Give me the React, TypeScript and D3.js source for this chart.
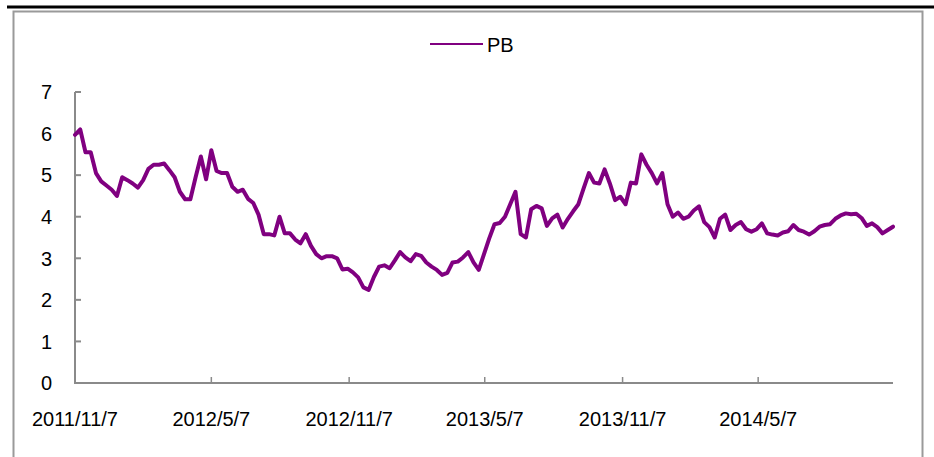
import React from 'react';
import * as d3 from 'd3';

// Weekly PB readings starting 2011/11/7
const START = '2011/11/7';
const pbWeekly: number[] = [
  5.97, 6.1, 5.55, 5.55, 5.05, 4.85, 4.75, 4.65, 4.5, 4.95,
  4.88, 4.8, 4.7, 4.88, 5.15, 5.25, 5.25, 5.28, 5.12, 4.95,
  4.6, 4.42, 4.42, 4.95, 5.45, 4.9, 5.6, 5.1, 5.05, 5.05,
  4.72, 4.6, 4.65, 4.43, 4.33, 4.05, 3.58, 3.58, 3.55, 4.0,
  3.6, 3.6, 3.45, 3.36, 3.58, 3.3, 3.1, 3.0, 3.05, 3.05,
  3.0, 2.73, 2.75, 2.66, 2.54, 2.3, 2.24, 2.55, 2.8, 2.83,
  2.76, 2.95, 3.15, 3.02, 2.93, 3.1, 3.06, 2.9, 2.8, 2.72,
  2.6, 2.65, 2.9, 2.92, 3.02, 3.15, 2.9, 2.72, 3.1,
  3.48, 3.82, 3.85, 4.0, 4.3, 4.6, 3.58, 3.5, 4.18, 4.26,
  4.2, 3.78, 3.96, 4.05, 3.74, 3.95, 4.13, 4.3, 4.68, 5.05,
  4.82, 4.8, 5.14, 4.8, 4.4, 4.48, 4.3, 4.82, 4.8, 5.5,
  5.25, 5.05, 4.8, 5.05, 4.3, 4.0, 4.1, 3.95, 4.0,
  4.15, 4.25, 3.87, 3.75, 3.5, 3.95, 4.05, 3.68, 3.8, 3.87,
  3.7, 3.64, 3.7, 3.84, 3.6, 3.57, 3.55, 3.62, 3.65, 3.8,
  3.68, 3.64, 3.57, 3.65, 3.76, 3.8, 3.82, 3.95, 4.03, 4.08,
  4.06, 4.07, 3.97, 3.78, 3.84, 3.75, 3.6, 3.68, 3.76,
];
const xTickLabels = ['2011/11/7', '2012/5/7', '2012/11/7', '2013/5/7', '2013/11/7', '2014/5/7'];
const yTicks = [0, 1, 2, 3, 4, 5, 6, 7];
const seriesName = 'PB';

const FONT = '"Liberation Sans", Arial, sans-serif';
const LINE_COLOR = '#800080';
const AXIS_COLOR = '#8a8a8a';

export default function App() {
  const W = 934;
  const H = 457;
  const parse = d3.timeParse('%Y/%m/%d');
  const start = parse(START) as Date;
  const dates = pbWeekly.map((_, i) => d3.timeDay.offset(start, 7 * i));
  const x = d3.scaleTime().domain([start, dates[dates.length - 1]]).range([75, 893]);
  const y = d3.scaleLinear().domain([0, 7]).range([383, 92]);
  const line = d3
    .line<number>()
    .x((_, i) => x(dates[i]))
    .y((d) => y(d));

  return (
    <div style={{ position: 'absolute', left: 0, top: 0 }}>
      <svg width={W} height={H} style={{ display: 'block', background: '#fff' }} fontFamily={FONT}>
        {/* frame */}
        <line x1={7} x2={934} y1={7} y2={7} stroke="#000" strokeWidth={3} />
        <rect x={13.5} y={11.5} width={909} height={460} fill="none" stroke="#9a9a9a" strokeWidth={2} />

        {/* legend */}
        <line x1={430} x2={483} y1={44} y2={44} stroke={LINE_COLOR} strokeWidth={2.2} />
        <text x={487} y={51.5} fontSize={20} fill="#000">{seriesName}</text>

        {/* y axis */}
        <line x1={75} x2={75} y1={y(7)} y2={y(0)} stroke={AXIS_COLOR} strokeWidth={2} />
        {yTicks.map((t) => (
          <g key={t}>
            <line x1={75} x2={81} y1={y(t)} y2={y(t)} stroke={AXIS_COLOR} strokeWidth={2} />
            <text x={52} y={y(t) + 7.3} fontSize={20} textAnchor="end" fill="#000">{t}</text>
          </g>
        ))}

        {/* x axis */}
        <line x1={74} x2={893} y1={y(0)} y2={y(0)} stroke={AXIS_COLOR} strokeWidth={2} />
        {xTickLabels.map((lab) => {
          const xx = x(parse(lab) as Date);
          return (
            <g key={lab}>
              <line x1={xx} x2={xx} y1={y(0)} y2={y(0) - 6} stroke={AXIS_COLOR} strokeWidth={1.5} />
              <text x={xx} y={425.5} fontSize={20} textAnchor="middle" fill="#000">{lab}</text>
            </g>
          );
        })}

        {/* series */}
        <path d={line(pbWeekly) || ''} fill="none" stroke={LINE_COLOR} strokeWidth={4} strokeLinejoin="round" strokeLinecap="round" />
      </svg>
    </div>
  );
}
